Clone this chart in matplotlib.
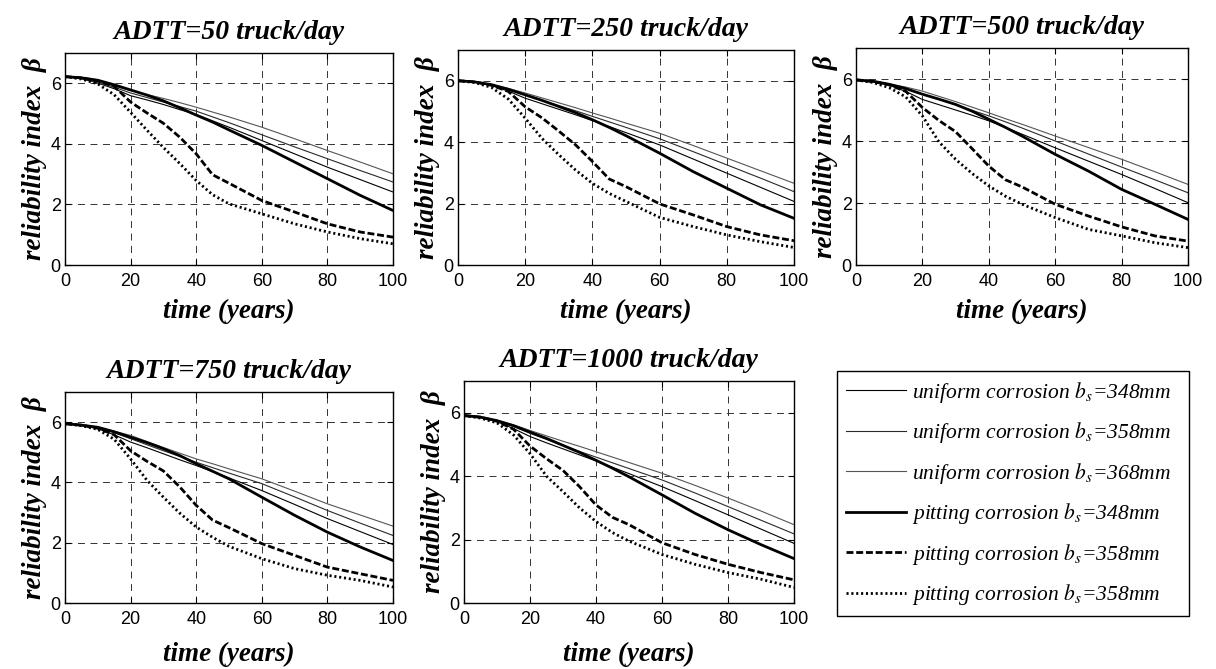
"""
Reliability index vs time, five ADTT levels
"""

import numpy as np
import matplotlib
matplotlib.use('Agg')
import matplotlib.pyplot as plt
from matplotlib.lines import Line2D

plt.rcParams['font.family'] = 'Liberation Serif'
plt.rcParams['mathtext.fontset'] = 'stix'
plt.rcParams['lines.scale_dashes'] = False

# time axis (years)
t = [0, 5, 10, 15, 20, 25, 30, 35, 40, 45, 50, 60, 70, 80, 90, 100]

titles = ['ADTT=50 truck/day', 'ADTT=250 truck/day', 'ADTT=500 truck/day',
          'ADTT=750 truck/day', 'ADTT=1000 truck/day']

labels = ['uniform corrosion $b_s$=348mm', 'uniform corrosion $b_s$=358mm',
          'uniform corrosion $b_s$=368mm', 'pitting corrosion $b_s$=348mm',
          'pitting corrosion $b_s$=358mm', 'pitting corrosion $b_s$=358mm']

# ADTT = 50
u348_50 = [6.22, 6.15, 6.01, 5.82, 5.59, 5.45, 5.30, 5.13, 4.97, 4.76, 4.55, 4.11, 3.67, 3.23, 2.82, 2.41]
u358_50 = [6.22, 6.16, 6.03, 5.87, 5.68, 5.53, 5.38, 5.23, 5.08, 4.89, 4.70, 4.30, 3.90, 3.51, 3.12, 2.74]
u368_50 = [6.22, 6.16, 6.04, 5.91, 5.76, 5.63, 5.50, 5.36, 5.21, 5.05, 4.89, 4.55, 4.17, 3.78, 3.40, 3.01]
p348_50 = [6.22, 6.18, 6.10, 5.95, 5.78, 5.61, 5.42, 5.19, 4.95, 4.72, 4.46, 3.95, 3.40, 2.85, 2.30, 1.80]
p358_50 = [6.22, 6.18, 6.08, 5.90, 5.38, 5.02, 4.68, 4.22, 3.67, 2.98, 2.70, 2.13, 1.75, 1.36, 1.09, 0.92]
p358b_50 = [6.22, 6.14, 5.98, 5.62, 5.04, 4.45, 3.88, 3.35, 2.79, 2.32, 2.02, 1.69, 1.36, 1.09, 0.87, 0.70]

# ADTT = 250
u348_250 = [6.00, 5.95, 5.84, 5.66, 5.43, 5.25, 5.07, 4.89, 4.70, 4.51, 4.31, 3.91, 3.45, 2.99, 2.53, 2.07]
u358_250 = [6.00, 5.96, 5.86, 5.71, 5.54, 5.36, 5.19, 5.02, 4.84, 4.66, 4.48, 4.11, 3.69, 3.26, 2.83, 2.39]
u368_250 = [6.00, 5.96, 5.87, 5.75, 5.60, 5.44, 5.28, 5.12, 4.95, 4.79, 4.62, 4.29, 3.89, 3.48, 3.07, 2.66]
p348_250 = [6.00, 5.96, 5.87, 5.72, 5.54, 5.36, 5.16, 4.96, 4.73, 4.48, 4.21, 3.64, 3.04, 2.50, 1.96, 1.52]
p358_250 = [6.00, 5.96, 5.85, 5.65, 5.15, 4.79, 4.36, 3.91, 3.37, 2.80, 2.55, 1.99, 1.63, 1.25, 0.98, 0.79]
p358b_250 = [6.00, 5.94, 5.78, 5.40, 4.78, 4.12, 3.59, 3.09, 2.66, 2.33, 2.07, 1.55, 1.25, 0.98, 0.76, 0.57]

# ADTT = 500
u348_500 = [5.97, 5.91, 5.80, 5.60, 5.34, 5.17, 5.00, 4.83, 4.65, 4.44, 4.22, 3.78, 3.35, 2.92, 2.47, 2.01]
u358_500 = [5.97, 5.92, 5.83, 5.69, 5.51, 5.34, 5.17, 4.99, 4.81, 4.62, 4.42, 4.00, 3.58, 3.16, 2.75, 2.33]
u368_500 = [5.97, 5.92, 5.84, 5.74, 5.61, 5.44, 5.27, 5.09, 4.91, 4.72, 4.54, 4.16, 3.79, 3.41, 3.01, 2.60]
p348_500 = [5.97, 5.93, 5.83, 5.69, 5.51, 5.35, 5.18, 4.96, 4.70, 4.44, 4.16, 3.57, 3.03, 2.44, 1.96, 1.47]
p358_500 = [5.97, 5.92, 5.81, 5.60, 5.08, 4.66, 4.30, 3.75, 3.19, 2.75, 2.52, 1.96, 1.58, 1.23, 0.94, 0.77]
p358b_500 = [5.97, 5.89, 5.72, 5.42, 4.81, 3.97, 3.41, 2.95, 2.55, 2.22, 1.96, 1.53, 1.15, 0.94, 0.72, 0.56]

# ADTT = 750
u348_750 = [5.95, 5.89, 5.78, 5.58, 5.34, 5.15, 4.95, 4.75, 4.56, 4.36, 4.15, 3.73, 3.27, 2.80, 2.37, 1.94]
u358_750 = [5.95, 5.90, 5.81, 5.65, 5.45, 5.25, 5.05, 4.86, 4.67, 4.49, 4.31, 3.96, 3.52, 3.07, 2.65, 2.24]
u368_750 = [5.95, 5.90, 5.82, 5.70, 5.56, 5.36, 5.16, 4.97, 4.78, 4.62, 4.45, 4.12, 3.71, 3.29, 2.92, 2.55]
p348_750 = [5.95, 5.90, 5.83, 5.68, 5.50, 5.32, 5.12, 4.89, 4.62, 4.37, 4.12, 3.51, 2.91, 2.35, 1.86, 1.41]
p358_750 = [5.95, 5.90, 5.80, 5.58, 5.05, 4.70, 4.38, 3.85, 3.24, 2.75, 2.50, 1.97, 1.58, 1.19, 0.97, 0.75]
p358b_750 = [5.95, 5.88, 5.76, 5.43, 4.78, 4.07, 3.51, 2.98, 2.52, 2.18, 1.88, 1.47, 1.14, 0.92, 0.75, 0.53]

# ADTT = 1000
u348_1000 = [5.91, 5.85, 5.72, 5.50, 5.25, 5.05, 4.86, 4.67, 4.48, 4.28, 4.08, 3.67, 3.23, 2.78, 2.33, 1.88]
u358_1000 = [5.91, 5.86, 5.75, 5.57, 5.35, 5.16, 4.97, 4.78, 4.60, 4.42, 4.24, 3.88, 3.47, 3.04, 2.61, 2.18]
u368_1000 = [5.91, 5.86, 5.76, 5.62, 5.44, 5.27, 5.10, 4.94, 4.77, 4.60, 4.43, 4.09, 3.71, 3.31, 2.90, 2.47]
p348_1000 = [5.91, 5.86, 5.75, 5.59, 5.39, 5.19, 4.97, 4.75, 4.50, 4.25, 3.98, 3.41, 2.83, 2.31, 1.84, 1.40]
p358_1000 = [5.91, 5.86, 5.73, 5.48, 4.95, 4.55, 4.18, 3.67, 3.09, 2.70, 2.47, 1.90, 1.53, 1.22, 0.96, 0.73]
p358b_1000 = [5.91, 5.83, 5.68, 5.30, 4.71, 4.00, 3.51, 3.00, 2.57, 2.22, 1.95, 1.53, 1.22, 0.96, 0.75, 0.49]

panels = [
  [u348_50, u358_50, u368_50, p348_50, p358_50, p358b_50],
  [u348_250, u358_250, u368_250, p348_250, p358_250, p358b_250],
  [u348_500, u358_500, u368_500, p348_500, p358_500, p358b_500],
  [u348_750, u358_750, u368_750, p348_750, p358_750, p358b_750],
  [u348_1000, u358_1000, u368_1000, p348_1000, p358_1000, p358b_1000],
]

# line styles: (color, width, dash)
styles = [
  ('#000000', 0.8, '-'),
  ('#2a2a2a', 0.8, '-'),
  ('#555555', 0.8, '-'),
  ('#000000', 2.0, '-'),
  ('#000000', 2.0, (0, (5.0, 2.0))),
  ('#000000', 2.0, (0, (1.5, 2.0))),
]

# axes rectangles in pixels (left, top, right, bottom) for a 1216x669 canvas
W, H = 1216, 669
boxes = [(65, 53, 393, 265), (458, 50, 794, 265), (856, 48, 1188, 265),
         (65, 392, 393, 603), (464, 381, 794, 603)]
xpads = [6, 6, 6, 10, 10]


def drawPanel(fig, box, series, title, xpad):
  l, tp, r, b = box
  ax = fig.add_axes([l / W, 1 - b / H, (r - l) / W, (b - tp) / H])
  for y, (c, lw, ls) in zip(series, styles):
    ax.plot(t, y, color=c, lw=lw, linestyle=ls, dash_capstyle='butt')
  ax.set_xlim(0, 100)
  ax.set_ylim(0, 7)
  ax.set_xticks([0, 20, 40, 60, 80, 100])
  ax.set_yticks([0, 2, 4, 6])
  ax.grid(True, color='#333333', linestyle=(0, (5, 4)), lw=0.7)
  ax.tick_params(direction='in', top=True, right=True, length=4, width=0.8,
                 labelsize=13)
  ax.tick_params(axis='x', pad=6)
  ax.tick_params(axis='y', pad=3)
  for lab in ax.get_xticklabels() + ax.get_yticklabels():
    lab.set_family('Liberation Sans')
  for s in ax.spines.values():
    s.set_linewidth(1.0)
  ax.set_title(title, fontsize=20, fontweight='bold', fontstyle='italic', pad=10)
  ax.set_xlabel('time (years)', fontsize=19.5, fontweight='bold', fontstyle='italic', labelpad=xpad)
  ax.set_ylabel('reliability index  β', fontsize=19.5, fontweight='bold', fontstyle='italic', labelpad=3)
  return ax


fig = plt.figure(figsize=(12.16, 6.69), dpi=100)

for box, series, title, xpad in zip(boxes, panels, titles, xpads):
  drawPanel(fig, box, series, title, xpad)

handles = [Line2D([], [], color=c, lw=lw, linestyle=ls) for c, lw, ls in styles]
leg = fig.legend(handles, labels, loc='upper left',
                 bbox_to_anchor=(837 / W, 1 - 371 / H - 0.01, 352 / W, 0.01),
                 mode='expand', borderaxespad=0, handlelength=2.8, handletextpad=0.3,
                 labelspacing=0.72, borderpad=0.4, fancybox=False, edgecolor='black',
                 framealpha=1, prop={'style': 'italic', 'size': 15.5})
leg.get_frame().set_linewidth(1.0)

fig.savefig('out.png', dpi=100)
